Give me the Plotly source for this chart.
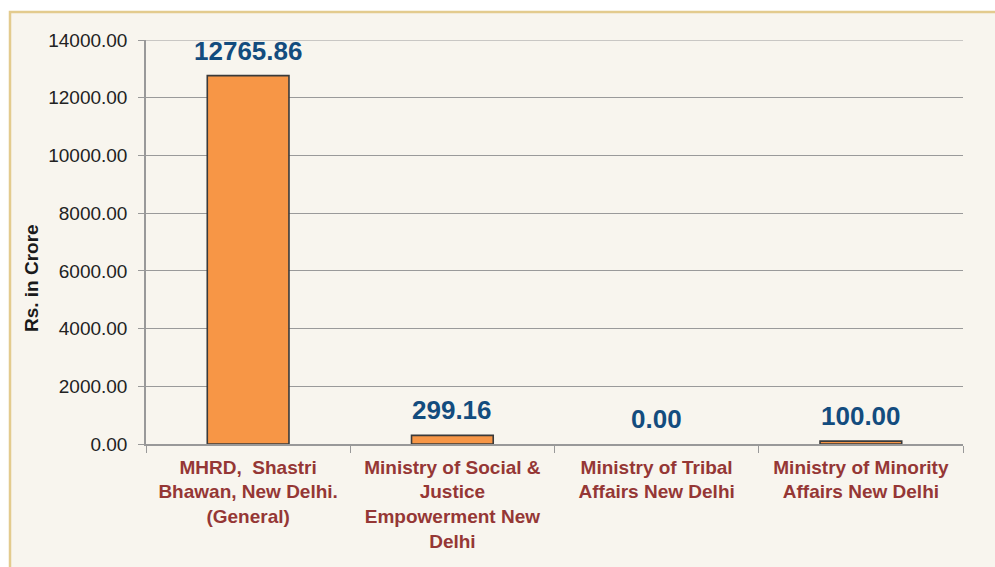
import plotly.graph_objects as go

categories = [
    "MHRD,  Shastri<br>Bhawan, New Delhi.<br>(General)",
    "Ministry of Social &<br>Justice<br>Empowerment New<br>Delhi",
    "Ministry of Tribal<br>Affairs New Delhi",
    "Ministry of Minority<br>Affairs New Delhi",
]
values = [12765.86, 299.16, 0.00, 100.00]
y_ticks = [0, 2000, 4000, 6000, 8000, 10000, 12000, 14000]
y_tick_labels = [f"{v:.2f}" for v in y_ticks]

W, H = 995, 567
L, R, T, B = 146, W - 963, 40, H - 444
pw, ph = W - L - R, H - T - B

def px_x(p):
    return (p - L) / pw

def px_y(p):
    return (H - B - p) / ph

fig = go.Figure()
fig.add_trace(go.Bar(
    x=categories, y=values,
    marker=dict(color="#F79646",
                line=dict(color="#3a3a3a",
                          width=[1.6 if v > 0 else 0 for v in values])),
    width=0.4,
    hoverinfo="skip",
))

for c, v in zip(categories, values):
    fig.add_annotation(
        x=c, y=v, text=f"<b>{v:.2f}</b>", showarrow=False,
        yanchor="middle", yshift=25,
        font=dict(family="Liberation Sans, Arial", size=26, color="#134C7E"),
    )

# cream panel with gold border
fig.add_shape(type="rect", xref="paper", yref="paper",
              x0=px_x(10), x1=px_x(1010), y0=px_y(600), y1=px_y(12),
              fillcolor="#F8F5EE", line=dict(color="#E3CB8E", width=2.5),
              layer="below")

# top gridline at the range edge
fig.add_shape(type="line", xref="paper", yref="y", x0=0, x1=1,
              y0=y_ticks[-1], y1=y_ticks[-1],
              line=dict(color="#9a9a9a", width=1), layer="below")

fig.add_annotation(
    xref="paper", yref="paper", x=px_x(31), y=px_y(278),
    xanchor="center", yanchor="middle",
    text="<b>Rs. in Crore</b>", textangle=-90, showarrow=False,
    font=dict(family="Liberation Sans, Arial", size=19, color="#1a1a1a"),
)

fig.update_layout(
    width=W, height=H,
    margin=dict(l=L, r=R, t=T, b=B),
    paper_bgcolor="white",
    plot_bgcolor="rgba(0,0,0,0)",
    showlegend=False,
    xaxis=dict(
        showgrid=False, showline=True, linecolor="#999999", linewidth=1.5,
        ticks="outside", tickson="boundaries", ticklen=7, tickcolor="#999999",
        tickfont=dict(family="Liberation Sans, Arial", size=19, color="#953735",
                      weight="bold"),
        tickangle=0, ticklabelstandoff=5,
    ),
    yaxis=dict(
        range=[0, 14000], tickvals=y_ticks, ticktext=y_tick_labels,
        showgrid=True, gridcolor="#9a9a9a", gridwidth=1,
        showline=True, linecolor="#999999", linewidth=1.5,
        ticks="outside", ticklen=6, tickcolor="#999999",
        tickfont=dict(family="Liberation Sans, Arial", size=19, color="#222222"),
        zeroline=False, ticklabelstandoff=7,
    ),
)

fig.write_html("out.html", config={"displayModeBar": False},
               post_script="document.body.style.margin='0';document.body.style.overflow='hidden';")
